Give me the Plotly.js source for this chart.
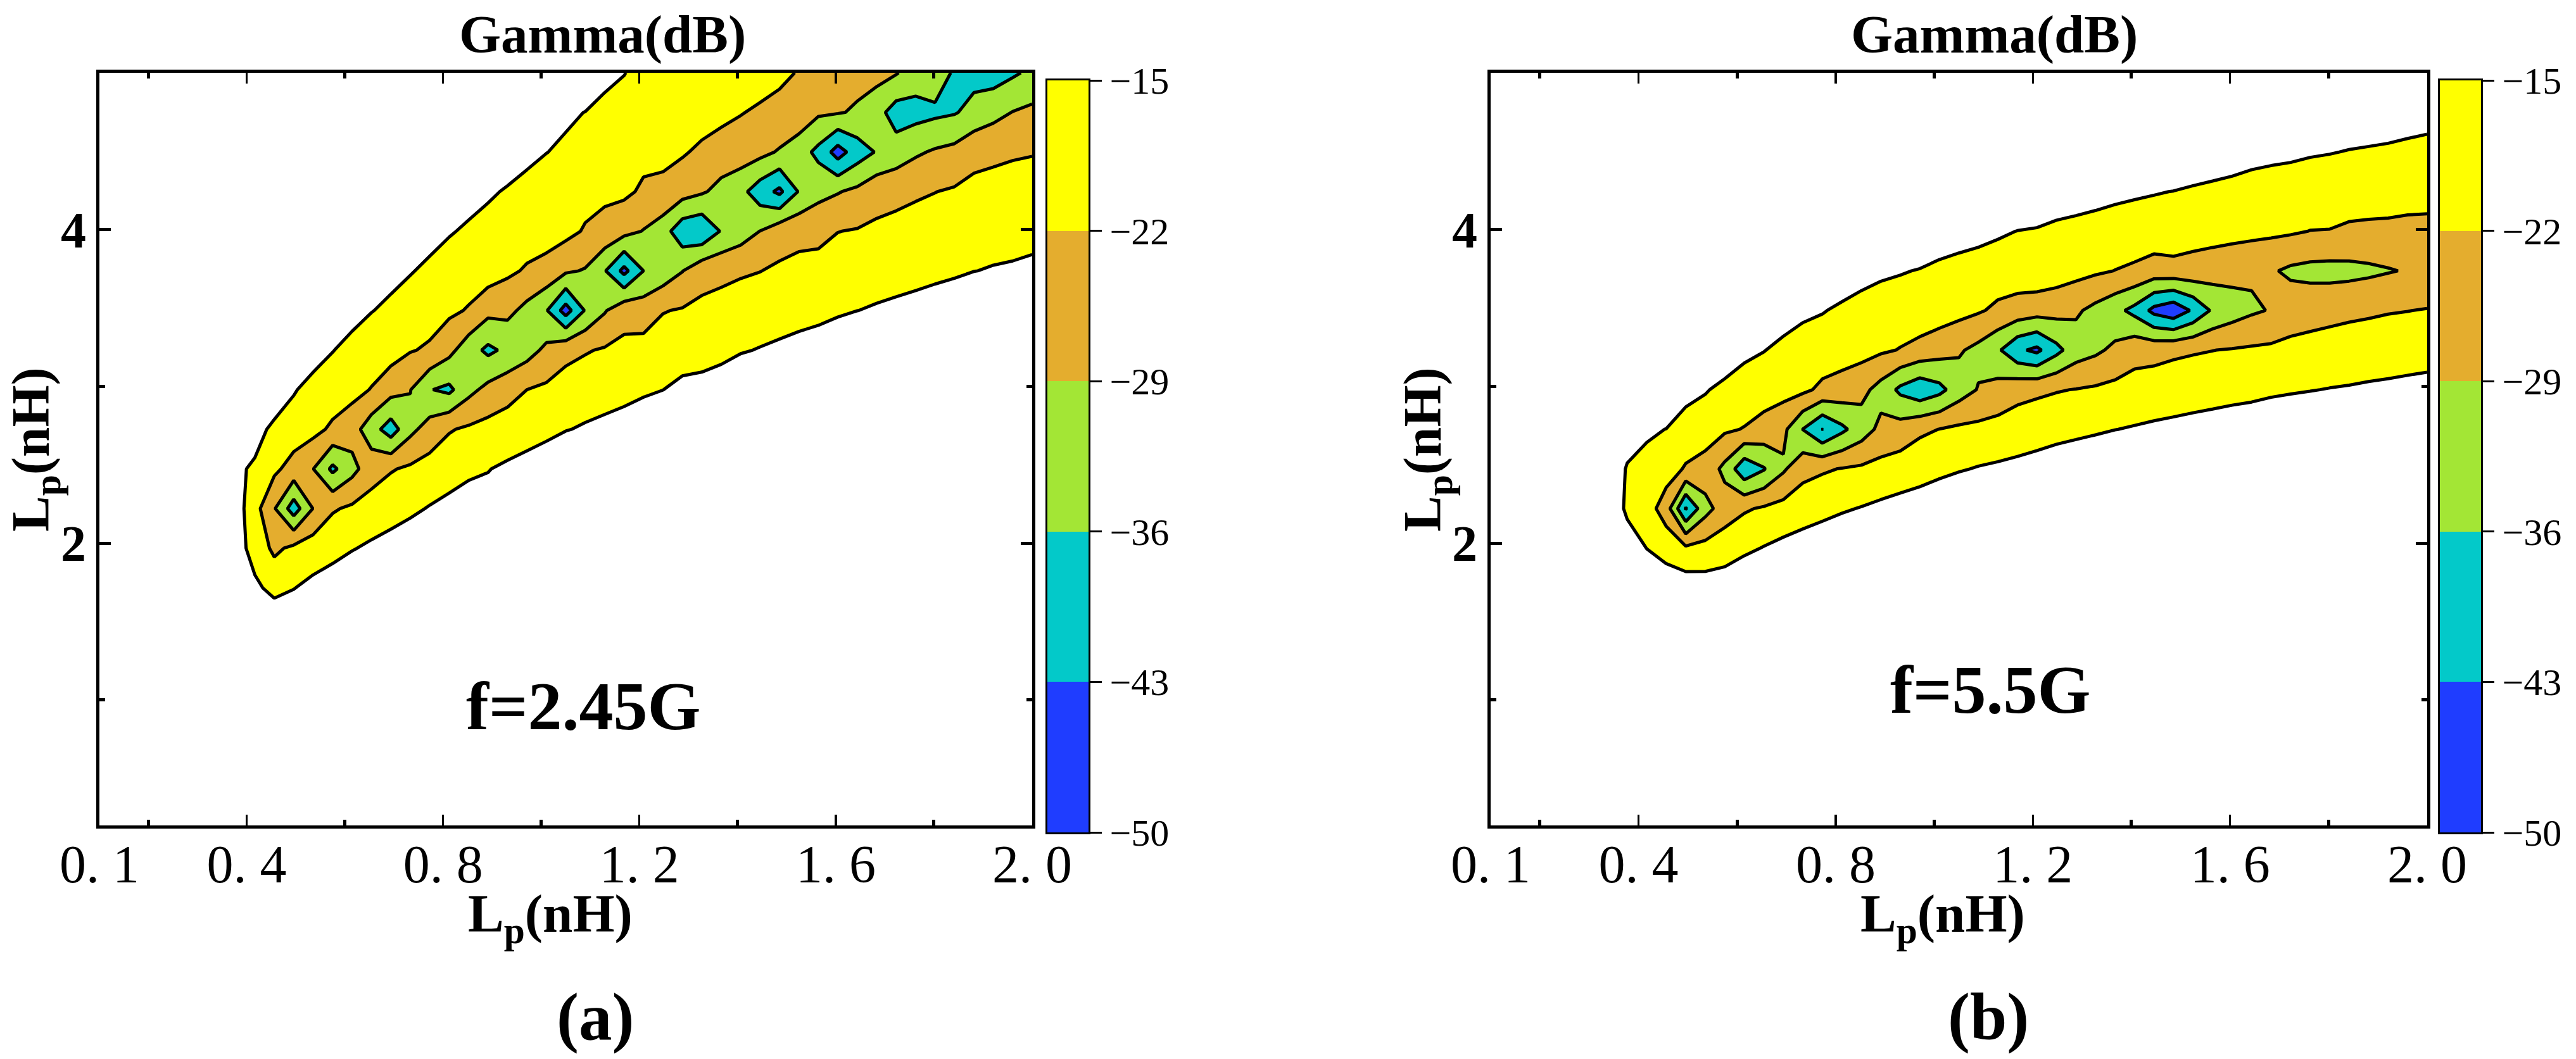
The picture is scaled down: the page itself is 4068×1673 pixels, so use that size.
<!DOCTYPE html>
<html>
<head>
<meta charset="utf-8">
<script src="https://cdn.plot.ly/plotly-3.0.1.min.js"></script>
<style>html,body{margin:0;padding:0;background:#fff}</style>
</head>
<body>
<div id="chart" style="width:4068px;height:1673px"></div>
<script>
// grid of the two sweeps: 49 Lp columns (0.1..2.0), 20 Lp rows (0.2..5.0)
const xStart = 0.1, xEnd = 2.0, xCount = 49;
const yStart = 0.2, yEnd = 5.0, yCount = 20;
const above = -8.5; // anything over -15 dB stays white

// one entry per column: first row, then Gamma(dB)
const colsA = [[],[],[],[],[],[],[],
  [6,-11,-12,-11.5,-13.7],
  [6,-13.8,-17.5,-19.5,-16,-12.5],
  [5,-10,-16.8,-23.5,-28.5,-20.6,-16.6,-10.2],
  [5,-10,-15.2,-20.5,-39.5,-24.7,-18.5,-14.4],
  [6,-13.3,-18.5,-28.8,-28.9,-20,-17.6,-11.7],
  [6,-11.7,-17.1,-22.7,-37.5,-23.2,-18.4,-14.8],
  [6,-9.7,-15.4,-20.9,-31.2,-26,-19.9,-16.8,-13],
  [7,-13.9,-19.1,-25,-33,-22.3,-18.5,-14.8],
  [7,-12.7,-17.5,-22.5,-39.5,-26.5,-19,-16.2,-13.3],
  [7,-11.2,-16.2,-20.9,-30.8,-28.8,-21.6,-18.2,-14.6],
  [8,-14.6,-19.3,-26,-35.7,-22.8,-19.6,-16.3,-12.8],
  [8,-13.2,-17.8,-22.5,-37.5,-27,-20.7,-17.9,-14.5],
  [8,-11.6,-16.4,-21,-31,-33,-22.5,-18.9,-15.9,-12.7],
  [8,-13,-15.2,-19.8,-27,-37.5,-27,-18.5,-16.5,-14.4],
  [9,-14,-18.6,-24.7,-34.5,-27.2,-20.8,-18.4,-15.4,-12.7],
  [9,-13,-17.4,-22,-31.8,-31,-22.7,-19,-16.6,-13.7],
  [9,-12,-16.3,-20.8,-27.5,-35.5,-24.3,-19.2,-17.7,-14.9],
  [10,-15.3,-19.5,-23.7,-46,-28,-20.1,-18,-15.9,-14.1],
  [10,-14.3,-18.4,-22.5,-35.5,-29.5,-22.6,-19.8,-17.4,-15.1,-10],
  [10,-13.5,-17.5,-21.4,-29.6,-35.5,-24.1,-20.7,-18.4,-16.1,-13.9],
  [10,-12.7,-16.7,-20.5,-24.3,-45,-26.8,-20.7,-18.5,-16.3,-14.9],
  [10,-12,-15.7,-19.6,-25.3,-36,-29.3,-23,-20.3,-18,-16],
  [10,-10,-15.05,-18.7,-22.3,-33.1,-33,-23,-21,-19,-17],
  [11,-13.5,-17.8,-21.5,-29.2,-40.5,-26.2,-21.3,-19.8,-18.5],
  [11,-13.4,-17,-20.6,-24.3,-42,-28.2,-23.3,-19,-17],
  [11,-12.7,-16.3,-19.9,-23.5,-35.5,-31,-25.3,-20,-18],
  [11,-10,-15.5,-19.1,-22.7,-32.4,-34,-25.5,-21.7,-19.5],
  [12,-14.7,-18.4,-22.1,-28.9,-39.8,-27,-23,-19],
  [12,-14,-17.6,-21.1,-24.7,-44.5,-29.7,-23,-21.3],
  [12,-13.4,-16.8,-20.3,-23.8,-35.5,-33,-24.3,-22.2],
  [12,-13,-16.2,-19.6,-23.9,-31,-37.8,-28,-22.5],
  [12,-12,-15.6,-18.9,-22.1,-29.4,-46,-28.5,-23],
  [12,-9,-15.05,-18.3,-21.6,-27.5,-39.5,-29.8,-27],
  [13,-14.4,-17.7,-20.9,-24.3,-35.5,-33.5,-26.6],
  [13,-13.9,-17.1,-20.3,-23.6,-32.9,-39.1,-28.5],
  [13,-13.4,-16.6,-19.6,-22.8,-30,-38.5,-32.4],
  [13,-13,-16,-19,-22.1,-28.2,-37.4,-31.8],
  [13,-12.4,-15.6,-18.4,-21.3,-27,-36.5,-37],
  [14,-15.1,-17.9,-20.7,-23.5,-34,-38],
  [14,-14.6,-17.4,-20.2,-23.1,-31.2,-39.2],
  [14,-14.3,-17.1,-19.8,-22.6,-28.8,-37],
  [14,-13.8,-16.7,-19.5,-22.3,-27.5,-34.6]
];

const colsB = [[],[],[],[],[],[],[],
  [7,-11,-16.5,-15.7,-11],
  [6,-8.5,-15.1,-18.8,-17,-14],
  [6,-10.8,-17.7,-25.5,-18.9,-15.1],
  [6,-11,-20.8,-43.5,-22.7,-17.6,-13],
  [6,-11.7,-19.7,-31.5,-24.7,-18.8,-14.5],
  [6,-11.4,-18.2,-25.5,-30.8,-21,-16.7,-10.6],
  [6,-9.5,-16.3,-22.8,-41,-22.3,-18.1,-13.5],
  [7,-14.7,-21.2,-36.5,-24.4,-19,-14.8],
  [7,-13.2,-19.7,-30,-27.3,-19.6,-16.5,-12.2],
  [7,-12,-18.2,-24.1,-36.1,-20.5,-17.7,-13.8],
  [7,-11,-16.9,-22.8,-43.1,-23.5,-18,-14.7],
  [7,-9.9,-15.7,-21.7,-37.5,-24.8,-19,-15.9,-11.8],
  [8,-14.7,-20.9,-32.5,-26.9,-19.7,-16.9,-13.1],
  [8,-13.6,-19.8,-27.2,-31.6,-21,-17.8,-14],
  [8,-12.7,-18.6,-26.1,-37.5,-22.3,-18.3,-14.6],
  [8,-11.8,-17.6,-23.2,-41,-24.3,-17.5,-15.3,-10],
  [8,-10.8,-16.4,-21.9,-38,-26.3,-18.5,-16.2,-12],
  [8,-9,-15.5,-20.7,-32.4,-28.2,-19.9,-16.8,-12.8],
  [9,-14.6,-20.3,-28.6,-30.9,-21.3,-17.5,-13.3],
  [9,-14,-19.5,-26.6,-35,-23.3,-18.5,-14.1],
  [9,-13.3,-18.7,-24.1,-41.7,-24.8,-18.3,-15.1,-9],
  [9,-12.5,-17.9,-23.2,-44.5,-26,-17.5,-15.2,-13],
  [9,-11.7,-17,-22.4,-38,-26.5,-18.7,-16.2,-11.9],
  [9,-11,-16.4,-21.8,-32.3,-28,-19.9,-16.7,-12.4],
  [9,-10.7,-15.7,-21.1,-30.3,-30.9,-21,-17.2,-13],
  [10,-15.1,-20.2,-27.5,-34,-22.1,-17.9,-13.6],
  [10,-14.5,-19.6,-24.2,-38,-23,-18.5,-14.1],
  [10,-13.9,-19,-24,-45,-25,-18,-14.7],
  [10,-13.5,-18.3,-23.2,-48,-24.5,-17.7,-15.1,-9],
  [10,-13,-17.8,-22.6,-42,-24.4,-19.5,-16,-9.3],
  [10,-12.6,-17.3,-22.1,-35,-25.9,-19.3,-16.1,-12],
  [10,-12.2,-16.8,-21.6,-32.2,-26.7,-19.8,-16.6,-12.5],
  [10,-11.7,-16.5,-21.1,-30,-28,-20.1,-17.1,-13.3],
  [10,-11.2,-15.9,-20.7,-28.6,-28.3,-20.7,-17.5,-13.7],
  [10,-11,-15.5,-20.3,-25.2,-30.2,-21.2,-17.8,-14],
  [10,-10,-15.2,-19.8,-24.5,-31,-22.1,-18.2,-14.5],
  [11,-14.8,-19.3,-23.9,-31.3,-22.2,-18.4,-14.8],
  [11,-14.5,-18.9,-23.3,-31,-23,-18.9,-15.2,-12],
  [11,-14.1,-18.5,-22.9,-30.3,-23.3,-19,-15.7,-10.7],
  [11,-13.8,-18.1,-22.4,-29.4,-24,-18,-16.1,-11.1],
  [11,-13.4,-17.8,-22.1,-28.6,-24.6,-18.3,-16.4,-12.3],
  [11,-13.1,-17.4,-21.7,-27.5,-25,-18.2,-16.8,-12.8]
];

const levelsDb = [-50, -43, -36, -29, -22, -15];
const bandCentres = [-46.5, -39.5, -32.5, -25.5, -18.5];
const bandColors = ['#1f3dff', '#03c9c9', '#a3e635', '#e4ad2e', '#ffff00'];

const xTickVals = [0.1, 0.4, 0.8, 1.2, 1.6, 2.0];
const xTickText = ['0. 1', '0. 4', '0. 8', '1. 2', '1. 6', '2. 0'];
const xMinor = [0.2, 0.6, 1.0, 1.4, 1.8];
const yTickVals = [2, 4];
const yMinor = [1, 3, 5];

const W = 4068, H = 1673;
const serif = '"Liberation Serif", serif';
const px = v => v / W;
const py = v => 1 - v / H;

// columns -> z[row][col]
function toMatrix(cols) {
  const z = [];
  for (let r = 0; r < yCount; r++) z.push(new Array(xCount).fill(above));
  cols.forEach((c, k) => c.slice(1).forEach((v, i) => { z[c[0] + i][k] = v; }));
  return z;
}

// discrete scale for the contour fill: five bands, then white above -15
function contourScale() {
  const cols = bandColors.concat('#ffffff'), out = [];
  cols.forEach((c, i) => { out.push([i / cols.length, c]); out.push([(i + 1) / cols.length, c]); });
  return out;
}
function barScale() {
  const out = [];
  bandColors.forEach((c, i) => { out.push([i / 5, c]); out.push([(i + 1) / 5, c]); });
  return out;
}

function contourTrace(cols, xa, ya) {
  return {
    type: 'contour', z: toMatrix(cols), xaxis: xa, yaxis: ya,
    x0: xStart, dx: (xEnd - xStart) / (xCount - 1),
    y0: yStart, dy: (yEnd - yStart) / (yCount - 1),
    autocontour: false,
    contours: { start: -50, end: -8, size: 7, coloring: 'fill' },
    colorscale: contourScale(), showscale: false,
    line: { color: '#000', width: 5, smoothing: 0 }
  };
}
function legendBar(xa, ya) {
  return {
    type: 'heatmap', xaxis: xa, yaxis: ya, x: [0], y: bandCentres,
    z: bandCentres.map(v => [v]), zmin: -50, zmax: -15,
    colorscale: barScale(), showscale: false, hoverinfo: 'skip'
  };
}

function plotX(left, right) {
  return {
    domain: [px(left), px(right)], range: [xStart, xEnd], showgrid: false, zeroline: false,
    showline: true, mirror: 'allticks', linecolor: '#000', linewidth: 5,
    tickmode: 'array', tickvals: xTickVals, ticktext: xTickText,
    ticks: 'inside', ticklen: 17, tickwidth: 3.4, tickcolor: '#000',
    minor: { tickmode: 'array', tickvals: xMinor, ticks: 'inside', ticklen: 9, tickwidth: 5, tickcolor: '#000' },
    tickfont: { family: serif, size: 84, color: '#000' }, ticklabelstandoff: -16
  };
}
function plotY() {
  return {
    domain: [py(1304), py(115)], range: [yStart, yEnd], showgrid: false, zeroline: false,
    showline: true, mirror: 'allticks', linecolor: '#000', linewidth: 5,
    tickmode: 'array', tickvals: yTickVals,
    ticks: 'inside', ticklen: 18, tickwidth: 5, tickcolor: '#000',
    minor: { tickmode: 'array', tickvals: yMinor, ticks: 'inside', ticklen: 9, tickwidth: 5, tickcolor: '#000' },
    tickfont: { family: serif, size: 80, color: '#000', weight: 'bold' }
  };
}
function barX(left, right) {
  return {
    domain: [px(left), px(right)], range: [-0.5, 0.5], showgrid: false, zeroline: false,
    showticklabels: false, ticks: '', showline: true, mirror: true, linecolor: '#000', linewidth: 3.4
  };
}
function barY(anchor) {
  return {
    anchor: anchor, side: 'right', domain: [py(1315), py(127)], range: [-50, -15],
    showgrid: false, zeroline: false, showline: true, mirror: true, linecolor: '#000', linewidth: 3.4,
    tickmode: 'array', tickvals: levelsDb, ticks: 'outside', ticklen: 18, tickwidth: 3, tickcolor: '#000',
    tickfont: { family: serif, size: 60, color: '#000' }
  };
}

function label(text, x, y, size, extra) {
  return Object.assign({
    text: '<b>' + text + '</b>', xref: 'paper', yref: 'paper', x: px(x), y: py(y),
    xanchor: 'center', yanchor: 'middle', showarrow: false,
    font: { family: serif, size: size, color: '#000' }
  }, extra || {});
}

const layout = {
  width: W, height: H, margin: { l: 0, r: 0, t: 0, b: 0 },
  paper_bgcolor: '#fff', plot_bgcolor: '#fff', showlegend: false,
  xaxis: plotX(157, 1630), yaxis: Object.assign(plotY(), { anchor: 'x' }),
  xaxis2: plotX(2354, 3833), yaxis2: Object.assign(plotY(), { anchor: 'x2' }),
  xaxis3: Object.assign(barX(1654, 1719), { anchor: 'y3' }), yaxis3: barY('x3'),
  xaxis4: Object.assign(barX(3853, 3918), { anchor: 'y4' }), yaxis4: barY('x4'),
  annotations: [
    label('Gamma(dB)', 951, 55, 85),
    label('Gamma(dB)', 3149, 55, 85),
    label('L<sub>p</sub>(nH)', 869, 1449, 85),
    label('L<sub>p</sub>(nH)', 3068, 1449, 85),
    label('L<sub>p</sub>(nH)', 54, 710, 85, { textangle: -90 }),
    label('L<sub>p</sub>(nH)', 2252, 710, 85, { textangle: -90 }),
    label('f=2.45G', 921, 1115, 108),
    label('f=5.5G', 3143, 1089, 108),
    label('(a)', 940, 1606, 105),
    label('(b)', 3140, 1606, 105)
  ]
};
layout.xaxis.anchor = 'y';
layout.xaxis2.anchor = 'y2';

Plotly.newPlot('chart', [
  contourTrace(colsA, 'x', 'y'),
  contourTrace(colsB, 'x2', 'y2'),
  legendBar('x3', 'y3'),
  legendBar('x4', 'y4')
], layout, { staticPlot: true });
</script>
</body>
</html>
